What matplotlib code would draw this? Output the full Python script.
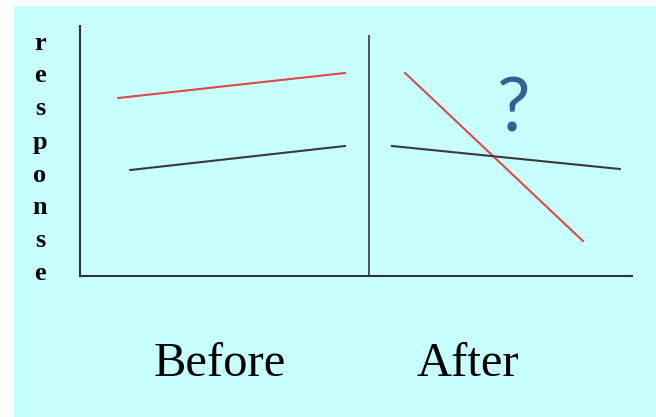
import matplotlib.pyplot as plt
import matplotlib.patches as patches

# data (x on a 0-10 time scale, y = response)
red_before_x = [0.69, 4.80]
red_before_y = [7.12, 8.12]
black_before_x = [0.91, 4.80]
black_before_y = [4.24, 5.20]
red_after_x = [5.89, 9.11]
red_after_y = [8.12, 1.40]
black_after_x = [5.65, 9.78]
black_after_y = [5.20, 4.28]
divider_x = 5.24
divider_top = 9.6
phase_labels = ["Before", "After"]
ylabel = "response"

fig = plt.figure(figsize=(6.56, 4.17), dpi=100)
fig.patch.set_facecolor("white")

# cyan slide background
bg = patches.Rectangle((14 / 656, 0), 1, 1 - 6 / 417, transform=fig.transFigure,
                       facecolor="#c8ffff", edgecolor="none", zorder=-10)
fig.patches.append(bg)

ax = fig.add_axes([80 / 656, 1 - 276 / 417, 552 / 656, 250 / 417])
ax.set_zorder(1)
ax.set_facecolor("none")
ax.set_xlim(0, 10)
ax.set_ylim(0, 10)
for s in ["top", "right"]:
    ax.spines[s].set_visible(False)
for s in ["left", "bottom"]:
    ax.spines[s].set_color("#333333")
    ax.spines[s].set_linewidth(1.5)
ax.set_xticks([])
ax.set_yticks([])

ax.plot(red_before_x, red_before_y, color="#e04848", lw=1.5)
ax.plot(black_before_x, black_before_y, color="#3a3a3a", lw=1.5)
ax.plot(red_after_x, red_after_y, color="#e04848", lw=1.5)
ax.plot(black_after_x, black_after_y, color="#3a3a3a", lw=1.5)
ax.plot([divider_x, divider_x], [0, divider_top], color="#444444", lw=1.3)

ax.text(7.85, 6.64, "?", fontsize=54, color="#2f6098", family="Lato",
        ha="center", va="center")

# stacked y label
for i, ch in enumerate(ylabel):
    fig.text(40 / 656, 1 - (43 + i * 33) / 417, ch, fontsize=19, weight="bold",
             family="Liberation Serif", ha="center", va="center")

fig.text(220 / 656, 1 - 364 / 417, phase_labels[0], fontsize=35,
         family="Liberation Serif", ha="center", va="center")
fig.text(468 / 656, 1 - 364 / 417, phase_labels[1], fontsize=35,
         family="Liberation Serif", ha="center", va="center")

fig.savefig("out.png", dpi=100)
